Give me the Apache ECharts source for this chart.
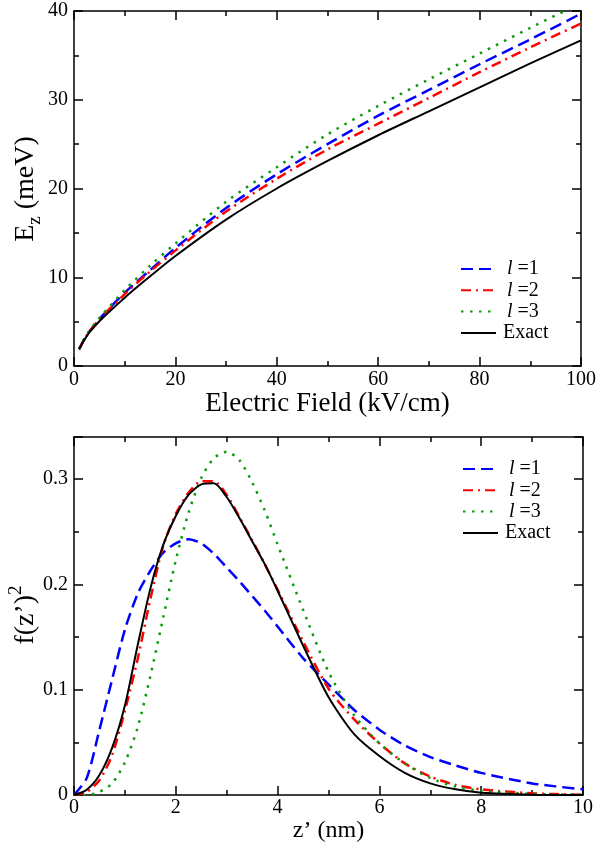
<!DOCTYPE html>
<html><head><meta charset="utf-8">
<script src="https://cdn.jsdelivr.net/npm/echarts@6/dist/echarts.min.js"></script>
<style>html,body{margin:0;padding:0;background:#fff}#c{width:599px;height:855px;background:#fff}</style>
</head><body><div id="c"></div>
<script>
// ---- top panel data: E_z (meV) vs electric field (kV/cm)
const fieldKV   = [1, 2, 3, 5, 10, 15, 20, 30, 40, 50, 60, 70, 80, 90, 100];
const ezL1      = [1.88, 3.0, 3.85, 5.3, 8.25, 10.8, 13.3, 17.8, 21.6, 25.0, 28.2, 31.1, 34.0, 36.8, 39.7];
const ezL2      = [1.88, 2.98, 3.82, 5.25, 8.1, 10.65, 13.0, 17.4, 21.1, 24.4, 27.3, 30.2, 33.1, 35.9, 38.6];
const ezL3      = [1.9, 3.05, 3.95, 5.4, 8.55, 11.3, 13.8, 18.5, 22.4, 26.1, 29.3, 32.3, 35.2, 38.1, 40.9];
const ezExact   = [1.88, 2.9, 3.75, 5.05, 7.7, 10.1, 12.4, 16.5, 20.0, 23.1, 26.0, 28.7, 31.4, 34.1, 36.7];

// ---- bottom panel data: f(z')^2 vs z' (nm)
const zNm     = [0, 0.25, 0.5, 0.75, 1, 1.25, 1.5, 1.75, 2, 2.25, 2.5, 2.75, 3, 3.25, 3.5, 3.75, 4, 4.5, 5, 5.5, 6, 6.5, 7, 7.5, 8, 9, 10];
const fL1     = [0, 0.016, 0.062, 0.110, 0.157, 0.191, 0.213, 0.230, 0.239, 0.243, 0.239, 0.229, 0.216, 0.203, 0.189, 0.175, 0.160, 0.130, 0.105, 0.081, 0.062, 0.047, 0.036, 0.028, 0.021, 0.011, 0.0054];
const fL2     = [0, 0.003, 0.014, 0.038, 0.080, 0.129, 0.186, 0.236, 0.267, 0.287, 0.298, 0.298, 0.285, 0.264, 0.242, 0.219, 0.195, 0.146, 0.101, 0.072, 0.049, 0.030, 0.0175, 0.0095, 0.0054, 0.0016, 0.0003];
const fL3     = [0, 0.000, 0.003, 0.011, 0.031, 0.064, 0.113, 0.168, 0.223, 0.268, 0.301, 0.320, 0.326, 0.318, 0.297, 0.270, 0.238, 0.176, 0.117, 0.076, 0.049, 0.030, 0.016, 0.008, 0.004, 0.001, 0.0002];
const fExact  = [0, 0.005, 0.019, 0.045, 0.085, 0.142, 0.196, 0.237, 0.265, 0.285, 0.295, 0.296, 0.283, 0.263, 0.241, 0.219, 0.194, 0.142, 0.093, 0.058, 0.037, 0.021, 0.011, 0.0054, 0.0022, 0.0003, 0];

const seriesNames = ['l =1', 'l =2', 'l =3', 'Exact'];

// axis ranges / tick steps
const topX = {min: 0, max: 100, major: 20};
const topY = {min: 0, max: 40, major: 10};
const botX = {min: 0, max: 10, major: 2};
const botY = {min: 0, max: 0.34, major: 0.1, minor: 0.05};

const FONT = 'Liberation Serif';
const styles = [
  {color: '#0000ff', type: [12, 6], width: 2.5},
  {color: '#ff0000', type: [10, 5, 2, 5], width: 2.5},
  {color: '#0a9a0a', type: [2.5, 6.5], width: 2.5},
  {color: '#000000', type: 'solid', width: 2}
];

function pairs(xs, ys) { return xs.map((x, i) => [x, ys[i]]); }

function axis(o) {
  const base = {
    type: 'value',
    splitLine: {show: false},
    axisLine: {show: o.line !== false, onZero: false, lineStyle: {color: '#000', width: 1.5}},
    axisTick: {show: true, inside: true, length: o.tickLen || 9, lineStyle: {color: '#000', width: 1.5}},
    minorTick: {show: o.minor !== false, splitNumber: 2, length: 5, lineStyle: {color: '#000', width: 1.5}},
    axisLabel: {show: !!o.labels, color: '#000', fontFamily: FONT, fontSize: 20, margin: o.margin || 5}
  };
  return Object.assign(base, o.extra || {}, {
    gridIndex: o.grid, position: o.pos, min: o.r.min, max: o.r.max, interval: o.step || o.r.major
  });
}

const xAxes = [
  axis({grid: 0, pos: 'bottom', r: topX, labels: true, margin: 4,
        extra: {name: 'Electric Field (kV/cm)', nameLocation: 'middle', nameGap: 23,
                nameTextStyle: {color: '#000', fontFamily: FONT, fontSize: 27}}}),
  axis({grid: 0, pos: 'top', r: topX}),
  axis({grid: 1, pos: 'bottom', r: botX, labels: true, margin: 3,
        extra: {name: 'z\u2019 (nm)', nameLocation: 'middle', nameGap: 24,
                nameTextStyle: {color: '#000', fontFamily: FONT, fontSize: 24}}}),
  axis({grid: 1, pos: 'top', r: botX})
];
const yAxes = [
  axis({grid: 0, pos: 'left', r: topY, labels: true, margin: 6}),
  axis({grid: 0, pos: 'right', r: topY}),
  axis({grid: 1, pos: 'left', r: botY, labels: true, minor: false, margin: 6}),
  axis({grid: 1, pos: 'right', r: botY, minor: false}),
  axis({grid: 1, pos: 'left', r: botY, step: botY.minor, minor: false, tickLen: 5, line: false}),
  axis({grid: 1, pos: 'right', r: botY, step: botY.minor, minor: false, tickLen: 5, line: false})
];
// hide the label of the top edge value (0.34) of the lower panel
yAxes[2].axisLabel.formatter = function (v) { return v > botY.major * 3 + 1e-9 ? '' : String(v); };

const topData = [ezL1, ezL2, ezL3, ezExact];
const botData = [fL1, fL2, fL3, fExact];
const series = [];
seriesNames.forEach((n, i) => {
  series.push({name: n, type: 'line', xAxisIndex: 0, yAxisIndex: 0, symbol: 'none', showSymbol: false,
    smooth: 0.3, clip: true, lineStyle: styles[i], itemStyle: {color: styles[i].color}, z: 2 + i,
    data: pairs(fieldKV, topData[i])});
});
seriesNames.forEach((n, i) => {
  series.push({name: n, type: 'line', xAxisIndex: 2, yAxisIndex: 2, symbol: 'none', showSymbol: false,
    smooth: 0.25, clip: true, lineStyle: styles[i], itemStyle: {color: styles[i].color}, z: 2 + i,
    data: pairs(zNm, botData[i])});
});

function legendFmt(name) {
  if (name.charAt(0) === 'l') return '{i|l}{t|' + name.slice(1) + '}';
  return '{n|' + name + '}';
}
const legendText = {
  color: '#000', fontFamily: FONT, fontSize: 20,
  rich: {
    i: {fontFamily: FONT, fontSize: 20, fontStyle: 'italic', lineHeight: 20, padding: [0, 0, 0, 6]},
    t: {fontFamily: FONT, fontSize: 20, lineHeight: 20},
    n: {fontFamily: FONT, fontSize: 20, lineHeight: 20, padding: [0, 0, 0, 2]}
  }
};
function legend(top, left) {
  return {data: seriesNames, orient: 'vertical', left: left, top: top, padding: 0,
    itemWidth: 35, itemHeight: 12, itemGap: 1.3, selectedMode: false, formatter: legendFmt,
    textStyle: legendText, itemStyle: {opacity: 0, borderWidth: 0}};
}

// rotated y-axis titles (with sub/superscript) as text elements
const richTitle = {
  m: {fontFamily: FONT, fontSize: 28, fill: '#000', lineHeight: 38},
  s: {fontFamily: FONT, fontSize: 19, fill: '#000', lineHeight: 19, verticalAlign: 'bottom'},
  p: {fontFamily: FONT, fontSize: 19, fill: '#000', lineHeight: 19, verticalAlign: 'top'}
};
function yTitle(text, x, y) {
  return {type: 'text', x: x, y: y, rotation: Math.PI / 2, silent: true,
    style: {text: text, rich: richTitle, fontFamily: FONT, fontSize: 28, fill: '#000',
            align: 'center', verticalAlign: 'middle'}};
}

const chart = echarts.init(document.getElementById('c'));
chart.setOption({
  animation: false,
  grid: [
    {left: 74, top: 11, width: 507, height: 355},
    {left: 74, top: 437, width: 509, height: 358}
  ],
  legend: [legend(259, 460), legend(459, 462)],
  xAxis: xAxes,
  yAxis: yAxes,
  graphic: [
    yTitle('{m|E}{s|z}{m| (meV)}', 26, 189),
    yTitle('{m|f(z\u2019)}{p|2}', 26, 615)
  ],
  series: series
});
</script></body></html>
